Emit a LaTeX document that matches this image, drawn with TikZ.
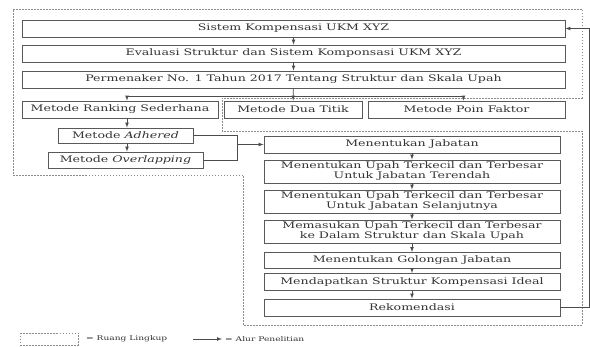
\documentclass[tikz,border=0pt]{standalone}
\usepackage{fontspec}
\setmainfont{DejaVu Serif}[FakeStretch=1.4]
\usepackage{tikz}
\usetikzlibrary{positioning}
\tikzset{
  box/.style    = {shape=rectangle, draw=black!65, line width=0.8pt,
                   inner sep=0pt, align=center, text=black!80,
                   font=\fontsize{9}{10}\selectfont, minimum height=17pt},
  lebar/.style  = {box, minimum width=543pt},
  tahap/.style  = {box, minimum width=296pt},
  ruang/.style  = {draw=black!45, line width=0.6pt, dash pattern=on 1.5pt off 1.5pt},
  alur/.style   = {draw=black!70, line width=0.7pt, -latex},
  garis/.style  = {draw=black!70, line width=0.7pt},
  ket/.style    = {anchor=west, inner sep=0pt, text=black!80,
                   font=\fontsize{6.5}{7}\selectfont}
}
\begin{document}
\begin{tikzpicture}[x=1pt, y=-1pt]
  \useasboundingbox (0,0) rectangle (590,347);

  \draw[ruang] (243,175) -- (13,175) -- (13,9) -- (582,9) -- (582,98)
               -- (222,98) -- (222,131) -- (582,131) -- (582,325)
               -- (243,325) -- (243,175);

  \node [lebar] (sistem)   at (293.5,28.5) {Sistem Kompensasi UKM XYZ};
  \node [lebar] (evaluasi) at (293.5,53.5) {Evaluasi Struktur dan Sistem Komponsasi UKM XYZ};
  \node [lebar] (permen)   at (293.5,79.5) {Permenaker No. 1 Tahun 2017 Tentang Struktur dan Skala Upah};

  \node [box, minimum width=196pt] (ranking)  at (120,109.5)   {Metode Ranking Sederhana};
  \node [box, minimum width=138pt] (duatitik) at (293,109.5)   {Metode Dua Titik};
  \node [box, minimum width=197pt] (poin)     at (466.5,109.5) {Metode Poin Faktor};
  \node [box, minimum width=135pt, minimum height=15pt] (adhered) at (125.5,135.5) {Metode \emph{Adhered}};
  \node [box, minimum width=155pt, minimum height=16pt] (overlap) at (125.5,160) {Metode \emph{Overlapping}};

  \node [tahap] (jabatan)  at (412,144.5) {Menentukan Jabatan};
  \node [tahap, minimum height=23pt] (rendah) at (412,171.5) {Menentukan Upah Terkecil dan Terbesar\\Untuk Jabatan Terendah};
  \node [tahap, minimum height=23pt] (lanjut) at (412,201.5) {Menentukan Upah Terkecil dan Terbesar\\Untuk Jabatan Selanjutnya};
  \node [tahap, minimum height=23pt] (masuk)  at (412,231.5) {Memasukan Upah Terkecil dan Terbesar\\ke Dalam Struktur dan Skala Upah};
  \node [tahap, minimum height=16pt] (golongan) at (412,260.5) {Menentukan Golongan Jabatan};
  \node [tahap] (ideal)    at (412,282)   {Mendapatkan Struktur Kompensasi Ideal};
  \node [tahap] (rekom)    at (412,307.5) {Rekomendasi};

  \coordinate (cabang) at (293.5,96);
  \coordinate (kurung) at (237,144.5);
  \coordinate (balik)  at (589,0);

  \draw[alur] (sistem) -- (evaluasi);
  \draw[alur] (evaluasi) -- (permen);
  \draw[alur] (permen) -- (duatitik);
  \draw[alur] (cabang) -| ([xshift=7pt]ranking.north);
  \draw[alur] (cabang) -| ([xshift=-3pt]poin.north);
  \draw[alur] ([xshift=7pt]ranking.south) -- ([xshift=1.5pt]adhered.north);
  \draw[alur] ([xshift=1.5pt]adhered.south) -- ([xshift=1.5pt]overlap.north);
  \draw[garis] (adhered.east) -| (kurung);
  \draw[garis] (overlap.east) -| (kurung);
  \draw[alur] (kurung) -- (jabatan.west);
  \draw[alur] (jabatan) -- (rendah);
  \draw[alur] (rendah) -- (lanjut);
  \draw[alur] (lanjut) -- (masuk);
  \draw[alur] (masuk) -- (golongan);
  \draw[alur] (golongan) -- (ideal);
  \draw[alur] (ideal) -- (rekom);
  \draw[alur] (rekom.east) -- (rekom.east -| balik) |- (sistem.east);

  \draw[ruang] (20,333) rectangle (78,345);
  \node [ket] (ketruang) at (86,339) {= Ruang Lingkup};
  \coordinate (panahA) at (193,339);
  \coordinate (panahB) at (222,339);
  \draw[alur] (panahA) -- (panahB);
  \node [ket] (ketalur) at (225,339) {= Alur Penelitian};
\end{tikzpicture}
\end{document}
